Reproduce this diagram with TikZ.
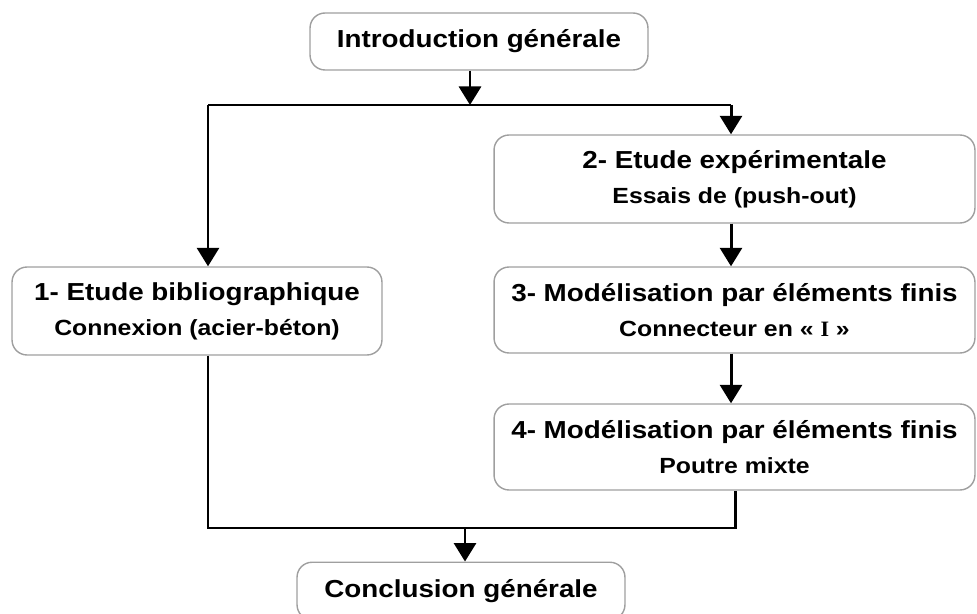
\documentclass[tikz,border=0pt]{standalone}
\usepackage{fontspec}
\setmainfont{Liberation Sans}[FakeStretch=1.13]
\newfontfamily\romanI{Liberation Serif}
\usetikzlibrary{arrows.meta,positioning}

\newcommand{\subline}[1]{{\fontsize{12.5}{20}\selectfont #1}}

\begin{document}
\begin{tikzpicture}[
    x=0.02cm, y=-0.02cm,
    box/.style={rectangle, draw=gray!75, line width=0.8pt, rounded corners=0.3cm, align=center, fill=white, font=\fontsize{14}{20}\selectfont\bfseries},
    arrow/.style={-{Triangle[width=0.44cm,length=0.37cm]}, line width=1.7pt},
    link/.style={line width=1.7pt}
]
    \useasboundingbox (0,0) rectangle (977,614);

    \node[box, minimum width=6.76cm, minimum height=1.14cm] (intro) at (479,41.5) {Introduction générale};
    \node[box, minimum width=7.4cm, minimum height=1.76cm] (biblio) at (197,311) {1- Etude bibliographique\\\subline{Connexion (acier-béton)}};
    \node[box, minimum width=9.62cm, minimum height=1.76cm] (exper) at (734.5,179) {2- Etude expérimentale\\\subline{Essais de (push-out)}};
    \node[box, minimum width=9.62cm, minimum height=1.72cm] (connect) at (734.5,310) {3- Modélisation par éléments finis\\\subline{Connecteur en « {\romanI I} »}};
    \node[box, minimum width=9.62cm, minimum height=1.72cm] (poutre) at (734.5,447) {4- Modélisation par éléments finis\\\subline{Poutre mixte}};
    \node[box, minimum width=6.56cm, minimum height=1.15cm] (concl) at (461,591) {Conclusion générale};

    % split below the introduction
    \coordinate (split) at (470,105);
    \coordinate (splitL) at (208,105);
    \coordinate (splitR) at (731,105);
    \draw[arrow] (intro.south -| split) -- (split);
    \draw[link] (splitL) -- (splitR);
    \draw[arrow] (splitL) -- (splitL |- biblio.north);
    \draw[arrow] (splitR) -- (splitR |- exper.north);

    \draw[arrow] (exper.south -| splitR) -- (connect.north -| splitR);
    \draw[arrow] (connect.south -| splitR) -- (poutre.north -| splitR);

    % join above the conclusion
    \coordinate (join) at (465,528);
    \coordinate (joinL) at (208,528);
    \coordinate (joinR) at (735,528);
    \draw[link] (biblio.south -| joinL) -- (joinL) -- (joinR) -- (poutre.south -| joinR);
    \draw[arrow] (join) -- (concl.north -| join);
\end{tikzpicture}
\end{document}
